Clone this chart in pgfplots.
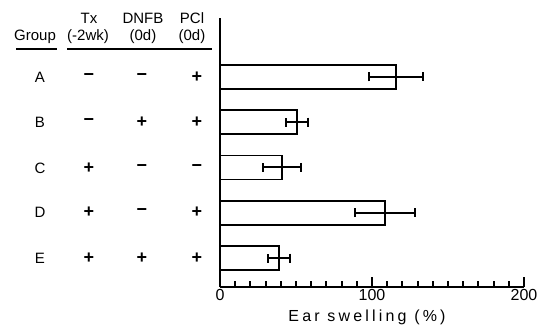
\documentclass[border=0pt]{standalone}
\usepackage{pgfplots}
\pgfplotsset{compat=1.18}
\usepackage{fontspec}
\setmainfont{Liberation Sans}
\newfontfamily\spaced[LetterSpace=20]{Liberation Sans}
\begin{document}
\begin{tikzpicture}[x=1pt,y=1pt,every node/.style={font=\fontsize{15}{17}\selectfont}]
\useasboundingbox (0,0) rectangle (544,333);
\begin{axis}[
  at={(220pt,46pt)}, anchor=south west,
  scale only axis, width=304pt, height=269pt,
  xmin=0, xmax=200, ymin=0.36, ymax=6.30,
  axis x line*=bottom, axis y line*=left,
  axis line style={line width=1.8pt, -},
  xtick={0,100,200},
  minor xtick={10,20,30,40,50,60,70,80,90,110,120,130,140,150,160,170,180,190},
  xtick align=inside, xtick pos=bottom,
  major tick length=10pt, minor tick length=6pt,
  every major tick/.append style={line width=2pt, black},
  every minor tick/.append style={line width=2pt, black},
  ytick=\empty,
  ticklabel style={font=\fontsize{16}{18}\selectfont},
  xticklabel style={yshift=1pt},
  /pgf/number format/assume math mode=true,
  clip=false,
]
\addplot[xbar, bar width=0.53, draw=black, fill=white, line width=1.8pt]
coordinates {
  (115.8,5) (50.7,4) (40.8,3) (108.6,2) (38.8,1)
};
\addplot[draw=none, mark=none, forget plot,
  error bars/.cd, x dir=both, x explicit, error mark=|,
  error bar style={draw=black, line width=2pt, solid},
  error mark options={draw=black, line width=2pt, mark size=4.5pt}]
coordinates {
  (115.8,5) +- (18,0)
  (50.7,4) +- (7,0)
  (40.8,3) +- (12.5,0)
  (108.6,2) +- (20,0)
  (38.8,1) +- (7,0)
};
\end{axis}
\node[font=\spaced\fontsize{16}{18}\selectfont] at (367,16) {Ear swelling (\%)};
% header
\node at (35,296) {Group};
\node at (89,315) {Tx};
\node at (88,296) {(-2wk)};
\node at (143,315) {DNFB};
\node at (143,296) {(0d)};
\node at (192,315) {PCl};
\node at (192,296) {(0d)};
\draw[line width=1.5pt] (16,284) -- (57,284);
\draw[line width=1.5pt] (67,284) -- (212,284);
% rows
\foreach \y/\g/\a/\b/\c in {256/A/−/−/+, 211/B/−/+/+, 165/C/+/−/−, 120.5/D/+/−/+, 75/E/+/+/+}{
  \node at (40,\y) {\g};
  \node[font=\bfseries\fontsize{18}{18}\selectfont] at (89,\y) {\a};
  \node[font=\bfseries\fontsize{18}{18}\selectfont] at (142,\y) {\b};
  \node[font=\bfseries\fontsize{18}{18}\selectfont] at (197,\y) {\c};
}
\end{tikzpicture}
\end{document}
